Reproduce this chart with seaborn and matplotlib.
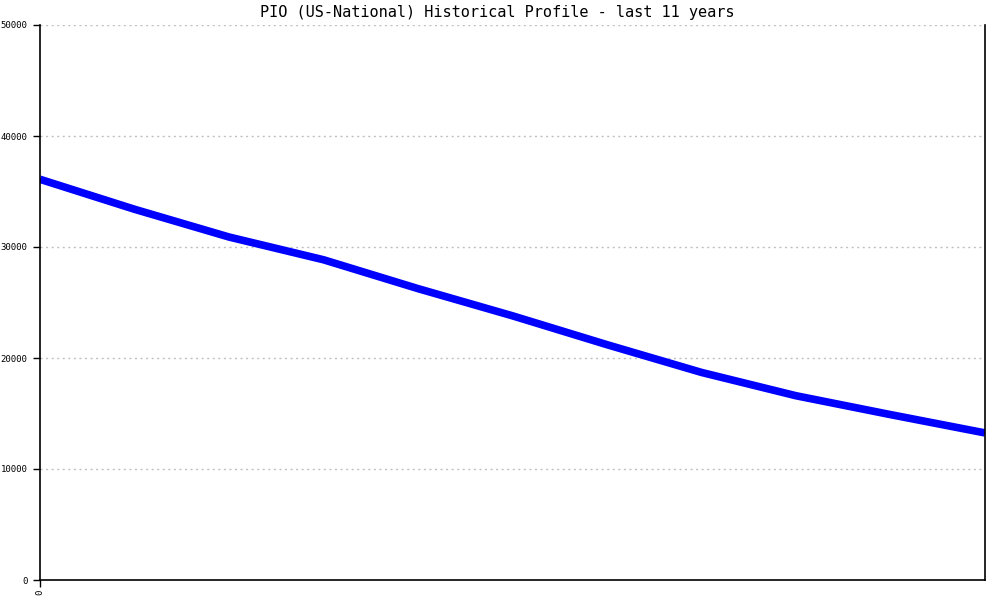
import numpy as np
import pandas as pd
import matplotlib
matplotlib.use("Agg")
import matplotlib.pyplot as plt
import seaborn as sns

# ── Data ──────────────────────────────────────────────────────────────────
year_idx = [0, 1, 2, 3, 4, 5, 6, 7, 8, 9, 10]
values = [36100, 33400, 30900, 28850, 26250, 23800, 21200, 18700, 16600, 14900, 13250]
y_ticks = [0, 10000, 20000, 30000, 40000, 50000]
x_tick_labels = ["0"]
title = "PIO (US-National) Historical Profile - last 11 years"

df = pd.DataFrame({"year": year_idx, "value": values})

sns.set_style("white", {"xtick.bottom": True, "ytick.left": True})
plt.rcParams["font.family"] = ["DejaVu Sans Mono"]

fig = plt.figure(figsize=(10, 6), dpi=100)
ax = fig.add_axes([0.04, 20 / 600, 0.945, 555 / 600])

sns.lineplot(data=df, x="year", y="value", ax=ax, color="#0000ff",
             linewidth=5.5, solid_joinstyle="round", solid_capstyle="butt")

ax.set_xlim(0, 10)
ax.set_ylim(0, 50000)
ax.set_yticks(y_ticks)
ax.set_yticklabels([str(v) for v in y_ticks], fontsize=6.5, color="black")
ax.set_xticks([0])
ax.set_xticklabels(x_tick_labels, rotation=90, fontsize=6.5, color="black")
ax.tick_params(axis="y", direction="out", length=5, width=1, color="black", pad=4)
ax.tick_params(axis="x", direction="out", length=5, width=1, color="black", pad=2)

# dotted grey gridlines (skip 0, it sits on the axis)
for yv in y_ticks[1:]:
    ax.axhline(yv, color="#c0c0c0", linestyle=(0, (1.5, 2.5)), linewidth=1, zorder=0)

ax.set_xlabel("")
ax.set_ylabel("")
for side in ["left", "bottom", "right"]:
    ax.spines[side].set_visible(True)
    ax.spines[side].set_color("black")
    ax.spines[side].set_linewidth(1.2)
ax.spines["top"].set_visible(False)

fig.text(0.497, 1 - 13 / 600, title, ha="center", va="center",
         fontsize=11, color="black")

fig.savefig("out.png", dpi=100, facecolor="white")
